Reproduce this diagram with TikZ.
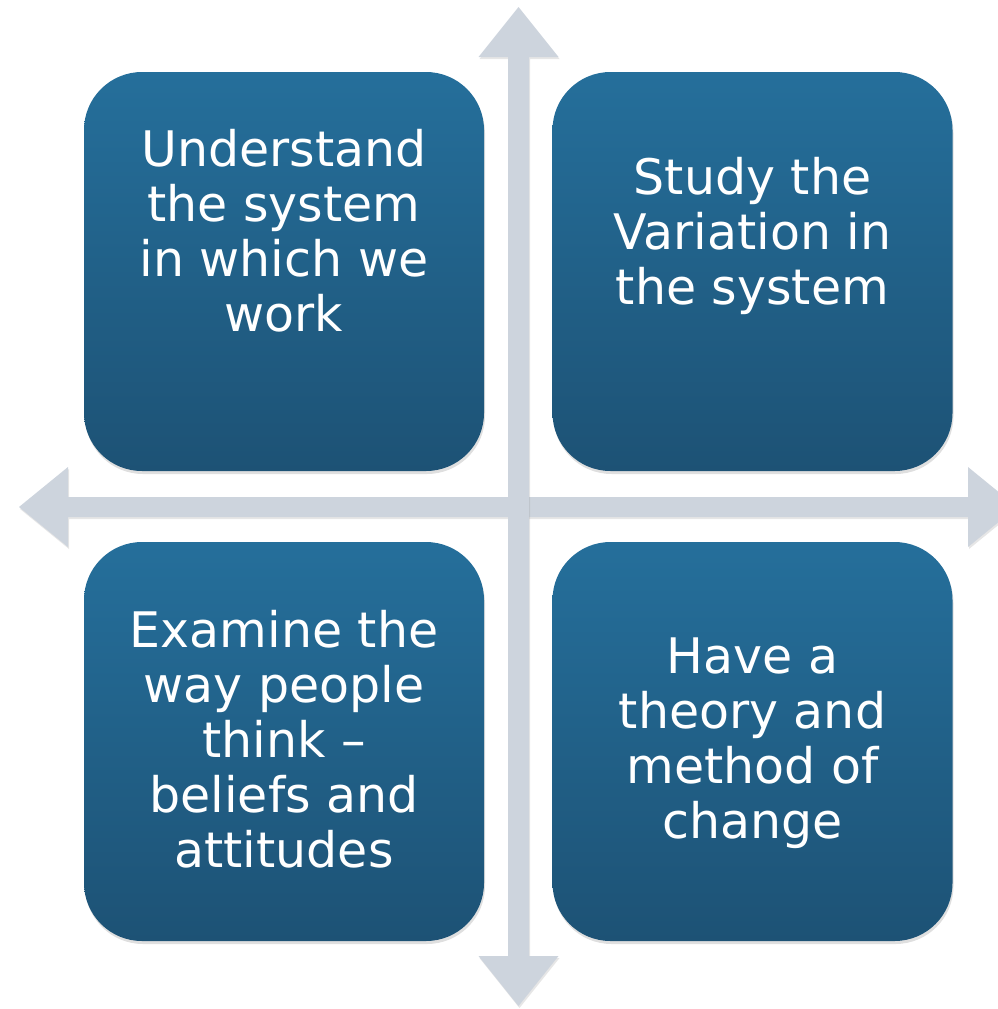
\documentclass[tikz,border=0pt]{standalone}
\usepackage{fontspec}
\setmainfont{DejaVu Sans}
\usetikzlibrary{positioning, shadows}

\definecolor{boxtop}{HTML}{256F9B}
\definecolor{boxbot}{HTML}{1D5275}
\definecolor{axisgray}{HTML}{CDD4DD}

\begin{document}
\begin{tikzpicture}[
        x=1pt, y=-1pt,
        quad/.style={rectangle, rounded corners=58pt, minimum width=400pt, minimum height=399pt, inner sep=0pt,
            top color=boxtop, bottom color=boxbot,
            drop shadow={opacity=0.25, shadow xshift=1pt, shadow yshift=-3pt}},
        txt/.style={text=white, align=center, anchor=base, inner sep=0pt,
            font=\fontsize{49}{55}\selectfont},
        axis/.style={fill=axisgray, drop shadow={opacity=0.2, shadow xshift=1pt, shadow yshift=-2pt}}
    ]
    \useasboundingbox (0,0) rectangle (998,1009);
    \clip (0,0) rectangle (998,1009);

    % Achsen
    \fill[axis] (19,507) -- (68,467) -- (68,497) -- (968,497) -- (968,467) -- (1017,507)
        -- (968,547) -- (968,517) -- (68,517) -- (68,547) -- cycle;
    \fill[axis] (518.5,7) -- (558.5,57) -- (529,57) -- (529,956) -- (558.5,956) -- (518.5,1006)
        -- (478.5,956) -- (508,956) -- (508,57) -- (478.5,57) -- cycle;

    % Quadranten
    \node (ul) [quad] at (284,271.5) {};
    \node (ur) [quad] at (752.5,271.5) {};
    \node (ll) [quad] at (284,741.5) {};
    \node (lr) [quad] at (752.5,741.5) {};

    % Texte (Grundlinie der letzten Zeile)
    \node (ultxt) [txt] at ([yshift=-260pt]ul.north) {Understand\\the system\\in which we\\work};
    \node (urtxt) [txt] at ([yshift=-233pt]ur.north) {Study the\\Variation in\\the system};
    \node (lltxt) [txt] at ([yshift=-326pt]ll.north) {Examine the\\way people\\think –\\beliefs and\\attitudes};
    \node (lrtxt) [txt] at ([yshift=-297pt]lr.north) {Have a\\theory and\\method of\\change};

\end{tikzpicture}
\end{document}
